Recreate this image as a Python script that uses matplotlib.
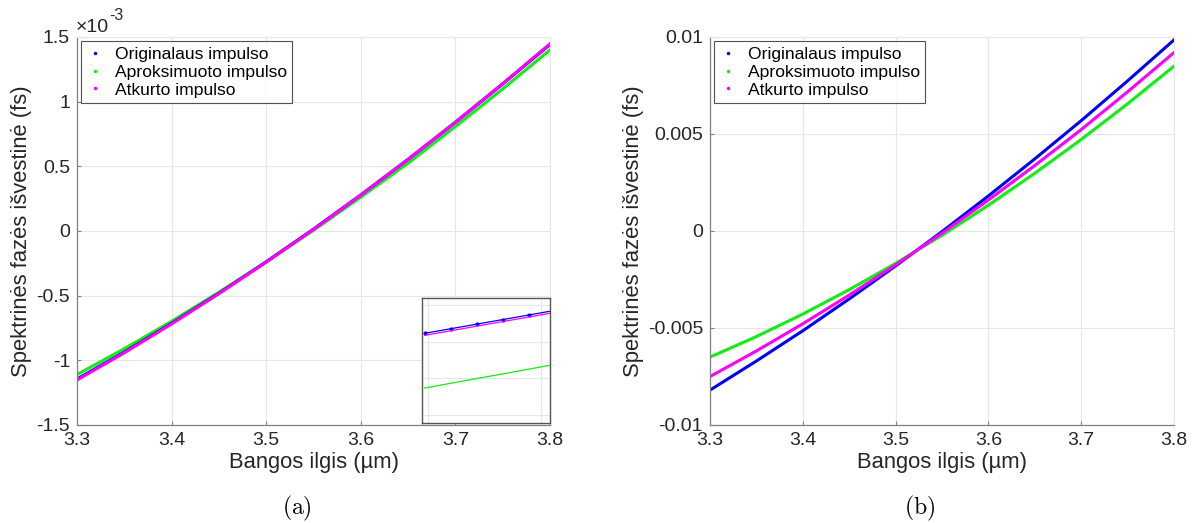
import numpy as np
import matplotlib.pyplot as plt

plt.rcParams['font.family'] = ['Liberation Sans', 'DejaVu Sans']
plt.rcParams['axes.unicode_minus'] = False
plt.rcParams['mathtext.fontset'] = 'cm'

# wavelength grid (um)
wl = [3.30, 3.35, 3.40, 3.45, 3.50, 3.55, 3.60, 3.65, 3.70, 3.75, 3.80]

# (a) spectral phase derivative, units of 1e-3 fs
a_orig = [-1.145, -0.936, -0.714, -0.481, -0.238, 0.015, 0.279, 0.554, 0.840, 1.137, 1.442]
a_aprx = [-1.110, -0.910, -0.698, -0.474, -0.240, 0.005, 0.262, 0.525, 0.808, 1.099, 1.400]
a_atk = [-1.152, -0.941, -0.718, -0.484, -0.240, 0.013, 0.279, 0.555, 0.842, 1.140, 1.447]

# (a) inset: zoom near 3.6 um
ins_x = [3.59997, 3.60020, 3.60043, 3.60066, 3.60089, 3.60112]
ins_orig = [0.27446, 0.27471, 0.27496, 0.27521, 0.27546, 0.27571]
ins_atk = [0.27435, 0.27460, 0.27485, 0.27510, 0.27535, 0.27560]
ins_aprx = [0.27147, 0.27173, 0.27199, 0.27224, 0.27250, 0.27276]

# (b) spectral phase derivative, units of 1e-3 fs
b_orig = [-8.20, -6.70, -5.14, -3.50, -1.80, -0.03, 1.81, 3.72, 5.69, 7.74, 9.85]
b_aprx = [-6.50, -5.44, -4.28, -3.02, -1.67, -0.22, 1.33, 2.98, 4.72, 6.56, 8.50]
b_atk = [-7.50, -6.18, -4.78, -3.30, -1.74, -0.11, 1.60, 3.38, 5.23, 7.18, 9.20]

labels = ['Originalaus impulso', 'Aproksimuoto impulso', 'Atkurto impulso']
colors = ['#0000ff', '#11ee11', '#ff00ff']
txt = '#262626'
gridc = '#e6e6e6'


def style(ax):
    ax.grid(True, color=gridc, linewidth=0.8)
    ax.set_axisbelow(True)
    ax.tick_params(direction='in', length=3, colors='#808080', labelsize=14, labelcolor=txt)
    ax.tick_params(axis='x', pad=5)
    ax.tick_params(axis='y', pad=5)
    for k in ['left', 'bottom']:
        ax.spines[k].set_color('#808080')
        ax.spines[k].set_linewidth(0.9)
    for k in ['top', 'right']:
        ax.spines[k].set_color(gridc)
        ax.spines[k].set_linewidth(0.8)
    ax.set_xlabel('Bangos ilgis (µm)', fontsize=15.8, color=txt, labelpad=2)
    ax.set_ylabel('Spektrinės fazės išvestinė (fs)', fontsize=15.8, color=txt, labelpad=3)


def legend(ax):
    handles = [plt.Line2D([], [], ls='none', marker='.', ms=3, color=c) for c in colors]
    lg = ax.legend(handles, labels, loc='upper left', fontsize=12.6, frameon=True,
                   fancybox=False, edgecolor=txt, borderpad=0.3, handlelength=1.0,
                   handletextpad=0.6, labelspacing=0.15, borderaxespad=0.25)
    lg.get_frame().set_linewidth(0.8)


fig = plt.figure(figsize=(11.98, 5.23), dpi=100)

ax1 = fig.add_axes([0.0643, 0.1874, 0.3948, 0.7419])
ax1.plot(wl, a_aprx, color=colors[1], lw=2.2)
ax1.plot(wl, a_orig, color=colors[0], lw=2.2)
ax1.plot(wl, a_atk, color=colors[2], lw=2.2)
ax1.set_xlim(3.3, 3.8)
ax1.set_ylim(-1.5, 1.5)
ax1.set_xticks([3.3, 3.4, 3.5, 3.6, 3.7, 3.8])
ax1.set_yticks([-1.5, -1, -0.5, 0, 0.5, 1, 1.5])
ax1.set_yticklabels(['-1.5', '-1', '-0.5', '0', '0.5', '1', '1.5'])
style(ax1)
fig.text(76 / 1198, 1 - 27 / 523, '×10', fontsize=14, color=txt, ha='left', va='center')
fig.text(109 / 1198, 1 - 15 / 523, '-3', fontsize=11.5, color=txt, ha='left', va='center')
legend(ax1)

axi = fig.add_axes([0.3523, 0.1912, 0.1068, 0.239])
axi.plot(ins_x, ins_aprx, color=colors[1], lw=0.9)
axi.plot(ins_x, ins_orig, color=colors[0], lw=0.9, marker='.', ms=4)
axi.plot(ins_x, ins_atk, color=colors[2], lw=0.9)
axi.set_xlim(3.599947, 3.601080)
axi.set_ylim(0.26956, 0.27639)
axi.set_xticks([3.600, 3.601])
axi.set_yticks([0.270, 0.272, 0.274, 0.276])
axi.grid(True, color=gridc, linewidth=0.8)
axi.tick_params(length=0, labelbottom=False, labelleft=False)
for s in axi.spines.values():
    s.set_color('#555555')
    s.set_linewidth(1.0)

ax2 = fig.add_axes([0.5927, 0.1874, 0.3873, 0.7419])
ax2.plot(wl, np.array(b_orig) * 1e-3, color=colors[0], lw=2.2)
ax2.plot(wl, np.array(b_aprx) * 1e-3, color=colors[1], lw=2.2)
ax2.plot(wl, np.array(b_atk) * 1e-3, color=colors[2], lw=2.2)
ax2.set_xlim(3.3, 3.8)
ax2.set_ylim(-0.01, 0.01)
ax2.set_xticks([3.3, 3.4, 3.5, 3.6, 3.7, 3.8])
ax2.set_yticks([-0.01, -0.005, 0, 0.005, 0.01])
ax2.set_yticklabels(['-0.01', '-0.005', '0', '0.005', '0.01'])
style(ax2)
legend(ax2)

fig.text(297 / 1198, 1 - 508 / 523, r'$\mathrm{(a)}$', fontsize=17, ha='center', va='center')
fig.text(920 / 1198, 1 - 508 / 523, r'$\mathrm{(b)}$', fontsize=17, ha='center', va='center')

fig.savefig('out.png', dpi=100)
